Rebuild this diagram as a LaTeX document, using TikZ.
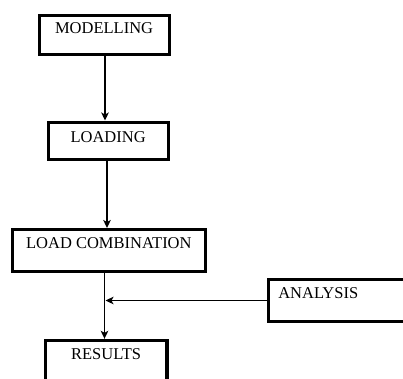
\documentclass[tikz,border=0pt]{standalone}
\usepackage{fontspec}
\setmainfont{Liberation Serif}
\usetikzlibrary{arrows.meta}
\begin{document}
\begin{tikzpicture}[x=1pt,y=-1pt,
  box/.style={draw=black, line width=3.2pt, inner sep=0pt, anchor=north west,
    font=\fontsize{16.5}{19}\selectfont},
  arr/.style={line width=1.9pt, -{Stealth[length=8pt,width=7.5pt,inset=2pt]}}]
\useasboundingbox (0,0) rectangle (403,378);
\node[box, minimum width=130pt, text height=18.3pt, text depth=20.2pt] (m) at (37.5,14) {MODELLING};
\node[box, minimum width=120pt, text height=20.2pt, text depth=16.8pt] (l) at (46.5,120.5) {LOADING};
\node[box, minimum width=193.5pt, text height=18.7pt, text depth=23.3pt] (lc) at (10.5,228) {LOAD COMBINATION};
\node[box, text width=133pt, inner xsep=10.2pt, align=left, text height=19.2pt, text depth=23.3pt] (an) at (266.5,277.5) {ANALYSIS};
\node[box, minimum width=121.5pt, text height=19.5pt, text depth=36.7pt] (r) at (43.8,338.8) {RESULTS};
\coordinate (c1) at (105,0);
\coordinate (c2) at (107,0);
\coordinate (c3) at (104.5,0);
\coordinate (j) at (105.5,300.5);
\draw[arr] (m.south -| c1) -- (l.north -| c1);
\draw[arr] (l.south -| c2) -- (lc.north -| c2);
\draw[arr] (lc.south -| c3) -- (r.north -| c3);
\draw[arr] (an.west |- j) -- (j);
\end{tikzpicture}
\end{document}
